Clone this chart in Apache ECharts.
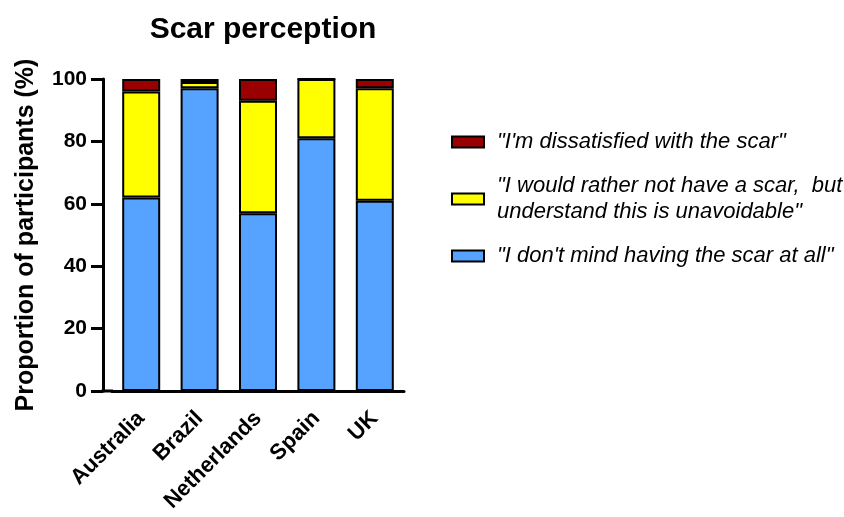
<!DOCTYPE html>
<html>
<head>
<meta charset="UTF-8">
<title>Scar perception</title>
<script src="https://cdn.jsdelivr.net/npm/echarts@6/dist/echarts.min.js"></script>
<style>
  html, body { margin: 0; padding: 0; background: #fff; }
  #chart { width: 844px; height: 517px; }
</style>
</head>
<body>
<div id="chart"></div>
<script>
var countries = ['Australia', 'Brazil', 'Netherlands', 'Spain', 'UK'];
var dontMind = [62, 97, 57, 81, 61];
var ratherNot = [34, 2, 36, 19, 36];
var dissatisfied = [4, 1, 7, 0, 3];
var yTicks = [0, 20, 40, 60, 80, 100];

var nameDissat = '"I\'m dissatisfied with the scar"';
var nameRather = '"I would rather not have a scar,  but\nunderstand this is unavoidable"';
var nameDont = '"I don\'t mind having the scar at all"';

var chart = echarts.init(document.getElementById('chart'));

function barSeries(name, data, color) {
  return {
    name: name,
    type: 'bar',
    stack: 'all',
    data: data,
    barWidth: 38,
    itemStyle: { color: color, borderColor: '#000', borderWidth: 2 }
  };
}

chart.setOption({
  animation: false,
  textStyle: { fontFamily: 'Liberation Sans, Arial, sans-serif' },
  title: {
    text: 'Scar perception',
    left: 258,
    top: 10,
    textAlign: 'center',
    textStyle: { fontSize: 30, fontWeight: 'bold', color: '#000' }
  },
  grid: { left: 112, top: 79, width: 292, height: 312, containLabel: false },
  legend: {
    orient: 'vertical',
    left: 446,
    top: 124,
    itemWidth: 32,
    itemHeight: 11,
    itemGap: 18,
    icon: 'rect',
    data: [nameDissat, nameRather, nameDont],
    textStyle: { fontSize: 22, fontStyle: 'italic', color: '#000', lineHeight: 26, padding: [0, 0, 0, 8] }
  },
  xAxis: {
    type: 'category',
    data: countries,
    axisLine: { lineStyle: { color: '#000', width: 3 } },
    axisTick: { alignWithLabel: true, length: 12, lineStyle: { color: '#000', width: 3 } },
    axisLabel: {
      rotate: 45, margin: 24, fontSize: 22, fontWeight: 'bold', color: '#000', interval: 0
    }
  },
  yAxis: {
    type: 'value',
    min: 0,
    max: 100,
    interval: 20,
    offset: 9,
    name: 'Proportion of participants (%)',
    nameLocation: 'middle',
    nameGap: 64,
    nameTextStyle: { fontSize: 25, fontWeight: 'bold', color: '#000' },
    splitLine: { show: false },
    axisLine: { show: true, lineStyle: { color: '#000', width: 3 } },
    axisTick: { show: true, length: 12, lineStyle: { color: '#000', width: 3 } },
    axisLabel: {
      fontSize: 21, fontWeight: 'bold', color: '#000', margin: 16,
      formatter: function (v) { return yTicks.indexOf(v) >= 0 ? String(v) : ''; }
    }
  },
  graphic: [{
    type: 'line',
    shape: { x1: 101.5, y1: 391, x2: 113, y2: 391 },
    style: { stroke: '#000', lineWidth: 3 }
  }],
  series: [
    barSeries(nameDont, dontMind, '#55A3FF'),
    barSeries(nameRather, ratherNot, '#FFFF00'),
    barSeries(nameDissat, dissatisfied, '#9B0000')
  ]
});
</script>
</body>
</html>
